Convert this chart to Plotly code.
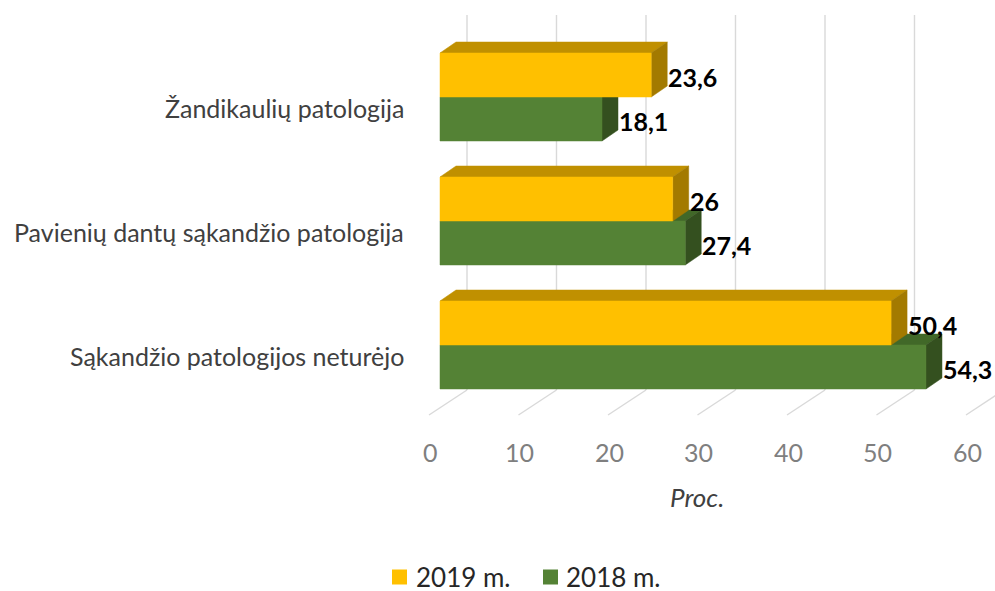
import plotly.graph_objects as go

# ---------------- data ----------------
categories = ["Žandikaulių patologija",
              "Pavienių dantų sąkandžio patologija",
              "Sąkandžio patologijos neturėjo"]
series_names = ["2019 m.", "2018 m."]
values_2019 = [23.6, 26, 50.4]
values_2018 = [18.1, 27.4, 54.3]
x_ticks = [0, 10, 20, 30, 40, 50, 60]
axis_title = "Proc."

# ---------------- styling / geometry ----------------
W, H = 995, 591
PX_PER_UNIT = 8.95          # horizontal scale (pixels per percent)
X0_PX = 440                 # pixel position of value 0 on the front plane
SLOT_PX = 124               # pixels per category slot
Y0_PX = 97                  # pixel position of the first category centre
XMIN = -X0_PX / PX_PER_UNIT
XMAX = (W - X0_PX) / PX_PER_UNIT
YTOP = -Y0_PX / SLOT_PX
YBOT = (H - Y0_PX) / SLOT_PX


def ypx(py):
    return (py - Y0_PX) / SLOT_PX


def xpx(px):
    return (px - X0_PX) / PX_PER_UNIT


BAR_H = 44 / SLOT_PX        # bar thickness (slot units)
DX = 16 / PX_PER_UNIT       # 3D depth offset (value units)
DY = -11 / SLOT_PX          # 3D depth offset (slot units, negative = up)
WALL_DX = 27 / PX_PER_UNIT  # back wall offset
FLOOR_DX = -11 / PX_PER_UNIT
FLOOR_FRONT_Y = ypx(415)
FLOOR_BACK_Y = ypx(390)
WALL_TOP_Y = ypx(15)

# legend placement (pixels): square centre x, text left x
LEGEND_Y = 577
LEGEND_POS = [(399.5, 414), (550.5, 564)]

FONT = "Lato, 'Open Sans', sans-serif"
colors = {
    "2019 m.": {"front": "#FFC000", "top": "#C09000", "side": "#A37A00"},
    "2018 m.": {"front": "#548235", "top": "#416828", "side": "#34501F"},
}
GRID = "#D9D9D9"

fig = go.Figure()

# ---------------- gridlines (back wall + floor) ----------------
gx, gy = [], []
for t in x_ticks:
    gx += [t + WALL_DX, t + WALL_DX, None]
    gy += [FLOOR_BACK_Y, WALL_TOP_Y, None]
    gx += [t + FLOOR_DX, t + WALL_DX, None]
    gy += [FLOOR_FRONT_Y, FLOOR_BACK_Y, None]
fig.add_trace(go.Scatter(x=gx, y=gy, mode="lines",
                         line=dict(color=GRID, width=1.4),
                         hoverinfo="skip", showlegend=False))


def poly(xs, ys, color):
    fig.add_trace(go.Scatter(x=xs + [xs[0]], y=ys + [ys[0]], mode="lines",
                             fill="toself", fillcolor=color,
                             line=dict(color=color, width=0.5),
                             hoverinfo="skip", showlegend=False))


def bar3d(v, top, bottom, c):
    poly([0, v, v + DX, DX], [top, top, top + DY, top + DY], c["top"])
    poly([v, v, v + DX, v + DX], [bottom, top, top + DY, bottom + DY], c["side"])
    poly([0, v, v, 0], [bottom, bottom, top, top], c["front"])


def fmt(v):
    return f"{v:g}".replace(".", ",")


annotations = []
for i, cat in enumerate(categories):
    v19, v18 = values_2019[i], values_2018[i]
    # lower bar (2018) first, then the upper bar (2019) in front of it
    bar3d(v18, i, i + BAR_H, colors["2018 m."])
    bar3d(v19, i - BAR_H, i, colors["2019 m."])
    for v, t, b in ((v19, i - BAR_H, i), (v18, i, i + BAR_H)):
        annotations.append(dict(x=v + DX - 0.1, y=(t + b) / 2 + 2 / SLOT_PX,
                                xref="x", yref="y", text=fmt(v), showarrow=False,
                                xanchor="left", yanchor="middle",
                                font=dict(family=FONT, size=25, color="#000000",
                                          weight="bold")))
    annotations.append(dict(x=xpx(406), y=i + 11 / SLOT_PX,
                            xref="x", yref="y", text=cat, showarrow=False,
                            xanchor="right", yanchor="middle",
                            font=dict(family=FONT, size=25, color="#404040")))

for t in x_ticks:
    annotations.append(dict(x=t + xpx(430), y=ypx(452), xref="x", yref="y",
                            text=str(t), showarrow=False, xanchor="center",
                            yanchor="middle",
                            font=dict(family=FONT, size=25, color="#7F7F7F")))

annotations.append(dict(x=697 / W, y=1 - 497 / H,
                        xref="paper", yref="paper",
                        text=f"<i>{axis_title}</i>", showarrow=False,
                        xanchor="center", yanchor="middle",
                        font=dict(family=FONT, size=26, color="#404040")))

# legend (square keys + labels)
for name, (sx, tx) in zip(series_names, LEGEND_POS):
    fig.add_trace(go.Scatter(x=[xpx(sx)], y=[ypx(LEGEND_Y)], mode="markers",
                             name=name, showlegend=False, hoverinfo="skip",
                             marker=dict(symbol="square", size=15,
                                         color=colors[name]["front"])))
    annotations.append(dict(x=xpx(tx), y=ypx(LEGEND_Y), xref="x", yref="y",
                            text=name, showarrow=False, xanchor="left",
                            yanchor="middle",
                            font=dict(family=FONT, size=26, color="#262626")))

fig.update_layout(
    width=W, height=H,
    margin=dict(l=0, r=0, t=0, b=0, autoexpand=False),
    paper_bgcolor="white", plot_bgcolor="white",
    xaxis=dict(range=[XMIN, XMAX], visible=False, fixedrange=True),
    yaxis=dict(range=[YBOT, YTOP], visible=False, fixedrange=True),
    showlegend=False,
    annotations=annotations,
)

fig.write_html("out.html",
               config={"displayModeBar": False},
               post_script="document.body.style.margin='0';"
                           "document.body.style.overflow='hidden';")
